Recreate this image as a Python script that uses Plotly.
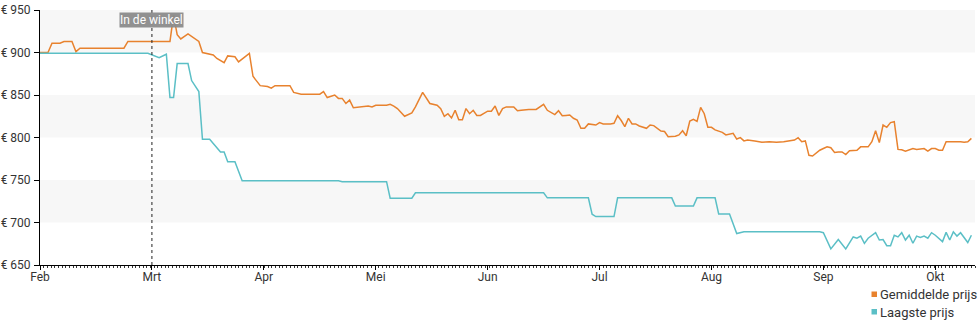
import calendar
from datetime import date

import plotly.graph_objects as go

JAAR = 2023
MAANDEN = ["Feb", "Mrt", "Apr", "Mei", "Jun", "Jul", "Aug", "Sep", "Okt"]
TICK_PRIJZEN = [650, 700, 750, 800, 850, 900, 950]

# Gemiddelde prijs (datum mm-dd, prijs in euro)
gem_datums = [
    "02-01", "02-03", "02-04", "02-06", "02-07", "02-09", "02-10", "02-11", "02-22", "02-23",
    "03-06", "03-07", "03-08", "03-09", "03-11", "03-13", "03-14", "03-15", "03-18", "03-19",
    "03-21", "03-22", "03-24", "03-25", "03-28", "03-29", "03-31",
    "04-02", "04-03", "04-04", "04-08", "04-09", "04-11", "04-16", "04-17", "04-18", "04-20",
    "04-21", "04-22", "04-23", "04-24", "04-25", "04-29", "04-30",
    "05-01", "05-04", "05-05", "05-06", "05-07", "05-09", "05-11", "05-12", "05-14", "05-16",
    "05-18", "05-19", "05-20", "05-21", "05-22", "05-23", "05-24", "05-25", "05-26", "05-27",
    "05-28", "05-29", "05-30",
    "06-01", "06-02", "06-03", "06-04", "06-05", "06-06", "06-08", "06-09", "06-10", "06-12",
    "06-14", "06-16", "06-17", "06-19", "06-20", "06-21", "06-22", "06-23", "06-24", "06-25",
    "06-26", "06-27", "06-28", "06-30",
    "07-01", "07-02", "07-04", "07-05", "07-06", "07-07", "07-08", "07-09", "07-10", "07-11",
    "07-12", "07-14", "07-15", "07-16", "07-18", "07-19", "07-20", "07-22", "07-23", "07-24",
    "07-25", "07-26", "07-27", "07-28", "07-29", "07-30", "07-31",
    "08-01", "08-02", "08-04", "08-05", "08-07", "08-08", "08-09", "08-10", "08-11", "08-13",
    "08-15", "08-17", "08-19", "08-21", "08-23", "08-24", "08-25", "08-26", "08-27", "08-28",
    "08-29", "08-31",
    "09-01", "09-02", "09-03", "09-04", "09-05", "09-06", "09-07", "09-08", "09-10", "09-11",
    "09-13", "09-14", "09-15", "09-16", "09-17", "09-18", "09-19", "09-20", "09-21", "09-22",
    "09-23", "09-25", "09-26", "09-28", "09-29", "09-30",
    "10-01", "10-02", "10-03", "10-04", "10-08", "10-09", "10-10", "10-11",
]
gem_prijs = [
    900, 900, 911, 911, 913, 913, 901, 905, 905, 913,
    913, 944, 921, 916, 922, 916, 913, 900, 897, 893,
    888, 896, 895, 889, 899, 872, 861,
    860, 858, 861, 861, 853, 851, 851, 854, 847, 850,
    846, 846, 840, 844, 835, 837, 836,
    838, 838, 839, 837, 834, 825, 829, 836, 853, 840,
    838, 834, 825, 828, 823, 832, 821, 821, 834, 828,
    832, 826, 826,
    831, 831, 837, 826, 834, 836, 836, 831.5, 832, 833,
    833, 839, 832, 827, 831.5, 825.6, 826, 826.5, 822.6, 820.6,
    810.8, 810.8, 816, 814.7,
    817.5, 816, 816, 816.7, 825.6, 820, 812.8, 822.6, 816, 816,
    813.5, 810.8, 814.7, 814, 807.6, 807, 801, 801.5, 803, 808,
    802, 819.4, 821.4, 819, 835.5, 828, 812,
    812, 809, 806, 803, 805, 798.2, 799.8, 796, 797, 796,
    794.4, 795, 794.4, 795, 796, 797, 799.8, 795, 796, 779,
    778.2, 785,
    787, 789, 788, 782.5, 783, 783, 780, 784.5, 785, 789,
    789, 795, 808, 794, 814.7, 812, 817.5, 818.6, 786, 785.5,
    784, 787, 786, 787, 784, 787,
    787, 785, 785, 795, 795, 794.5, 795, 799,
]

# Laagste prijs
laag_datums = [
    "02-01", "02-28", "03-03", "03-05", "03-06", "03-07", "03-08", "03-11", "03-12", "03-13",
    "03-14", "03-15", "03-17", "03-18", "03-20", "03-21", "03-22", "03-24", "03-26",
    "04-21", "04-22", "05-04", "05-05", "05-11", "05-12",
    "06-16", "06-17", "06-28", "06-29", "06-30",
    "07-05", "07-06", "07-21", "07-22", "07-27", "07-28",
    "08-02", "08-03", "08-06", "08-08", "08-10", "08-31",
    "09-01", "09-03", "09-05", "09-07", "09-09", "09-10", "09-11", "09-12", "09-13", "09-15",
    "09-16", "09-17", "09-18", "09-19", "09-20", "09-21", "09-22", "09-23", "09-24", "09-25",
    "09-26", "09-27", "09-28", "09-29", "09-30",
    "10-01", "10-03", "10-04", "10-05", "10-06", "10-07", "10-08", "10-10", "10-11",
]
laag_prijs = [
    899, 899, 894, 898, 847, 847, 887, 887, 867, 860,
    854, 798, 798, 793, 783, 783, 771.5, 771.5, 749,
    749, 748, 748, 728.5, 728.5, 735,
    735, 729, 729, 709.7, 707,
    707, 729, 729, 719.4, 719.4, 729,
    729, 710, 710, 687, 689, 689,
    688, 669, 680, 669, 683, 681.5, 684, 675.5, 681.5, 688,
    679.4, 680, 672.7, 672.7, 685, 683, 688, 679.4, 685, 675.6,
    684, 682.5, 684, 681.5, 688,
    685, 677.5, 688.4, 679.4, 689, 684, 688, 676.5, 685,
]

ORANJE = "#e8822e"
TURKOOIS = "#5bbfc6"
TEKST = "#333333"

# Plot area geometry in pixels (used to place the legend below the axis)
W, H = 980, 325
M_L, M_R, M_T, M_B = 40, 5, 10, 60
PW, PH = W - M_L - M_R, H - M_T - M_B


def maand_positie(mmdd):
    """Position on the month axis: each month gets one equal unit, days split it."""
    m, d = (int(v) for v in mmdd.split("-"))
    dagen = calendar.monthrange(JAAR, m)[1]
    return (date(JAAR, m, 1).month - 2) + (d - 1) / dagen


def px_x(px):
    return (px - M_L) / PW


def px_y(py):
    return (H - M_B - py) / PH


gem_x = [maand_positie(d) for d in gem_datums]
laag_x = [maand_positie(d) for d in laag_datums]

fig = go.Figure()

fig.add_trace(go.Scatter(
    x=gem_x, y=gem_prijs, mode="lines", name="Gemiddelde prijs",
    line=dict(color=ORANJE, width=1.5), hoverinfo="skip",
))
fig.add_trace(go.Scatter(
    x=laag_x, y=laag_prijs, mode="lines", name="Laagste prijs",
    line=dict(color=TURKOOIS, width=1.5), hoverinfo="skip",
))

# Alternating horizontal bands
for i in range(len(TICK_PRIJZEN) - 1):
    if i % 2 == 1:
        fig.add_shape(
            type="rect", xref="paper", yref="y", x0=0, x1=1,
            y0=TICK_PRIJZEN[i], y1=TICK_PRIJZEN[i + 1],
            fillcolor="#f7f7f7", line_width=0, layer="below",
        )

# "In de winkel" marker at the start of March
fig.add_shape(
    type="line", xref="x", yref="paper", x0=1, x1=1, y0=0, y1=1,
    line=dict(color="#222222", width=1, dash="dot"),
)
fig.add_annotation(
    x=1, y=px_y(20.5), xref="x", yref="paper", yanchor="middle", text="In de winkel",
    showarrow=False, font=dict(family="Roboto", size=12, color="white"),
    bgcolor="#8c8c8c", borderpad=0, opacity=0.95,
)

# Legend below the plot, bottom right: small coloured squares with labels
legenda = [("Gemiddelde prijs", ORANJE, 294.5), ("Laagste prijs", TURKOOIS, 312)]
for naam, kleur, rij_y in legenda:
    fig.add_shape(
        type="rect", xref="paper", yref="paper",
        x0=px_x(871.5), x1=px_x(877), y0=px_y(rij_y + 2.5), y1=px_y(rij_y - 3),
        fillcolor=kleur, line_width=0,
    )
    fig.add_annotation(
        x=px_x(878), y=px_y(rij_y), xref="paper", yref="paper",
        xanchor="left", yanchor="middle", text=naam, showarrow=False,
        font=dict(family="Roboto", size=13, color=TEKST),
    )

x_max = maand_positie("10-12")

fig.update_layout(
    width=W, height=H,
    margin=dict(l=M_L, r=M_R, t=M_T, b=M_B),
    plot_bgcolor="white", paper_bgcolor="white",
    font=dict(family="Roboto", size=12, color=TEKST),
    showlegend=False,
    xaxis=dict(
        range=[0, x_max], tickmode="array",
        tickvals=list(range(len(MAANDEN))), ticktext=MAANDEN,
        showgrid=False, zeroline=False, automargin=False,
        showline=True, linecolor="black", linewidth=1,
        ticks="outside", ticklen=4, tickcolor="black",
        minor=dict(ticks="outside", ticklen=2, tickcolor="#333333", dtick=1 / 30.4, tick0=0),
        tickfont=dict(size=12, color=TEKST),
        ticklabelstandoff=-3,
        fixedrange=True,
    ),
    yaxis=dict(
        range=[650, 950], tickmode="array",
        tickvals=TICK_PRIJZEN, ticktext=[f"€ {p}" for p in TICK_PRIJZEN],
        showgrid=False, zeroline=False, automargin=False,
        showline=True, linecolor="black", linewidth=1,
        ticks="outside", ticklen=5, tickcolor="black",
        tickfont=dict(size=12, color=TEKST),
        ticklabelstandoff=1,
        fixedrange=True,
    ),
)

fig.write_html("out.html")
